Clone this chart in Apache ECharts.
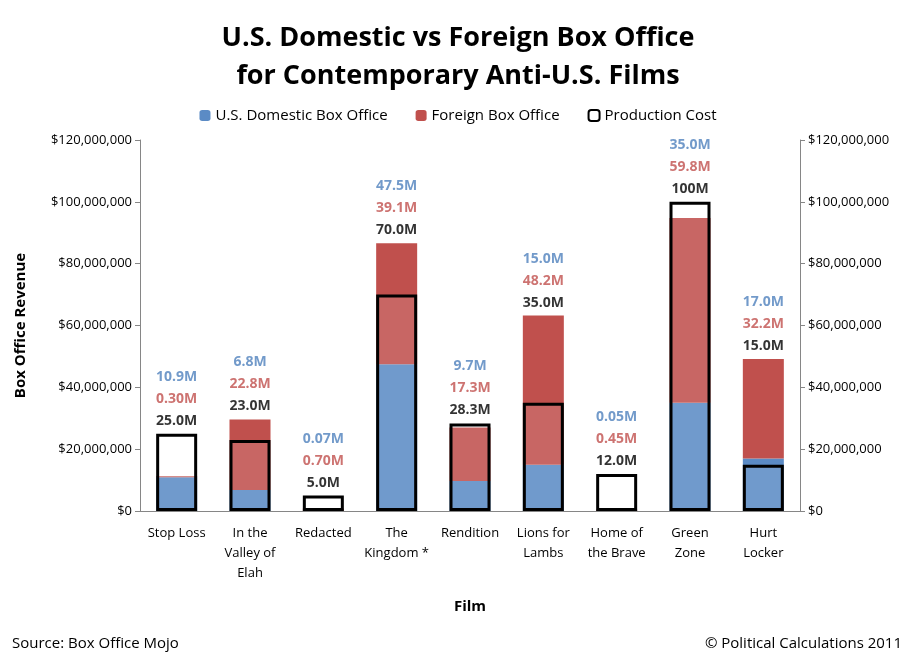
<!DOCTYPE html>
<html>
<head>
<meta charset="utf-8">
<script src="https://cdn.jsdelivr.net/npm/echarts@6/dist/echarts.min.js"></script>
<style>html,body{margin:0;padding:0;background:#fff}#c{width:916px;height:663px}</style>
</head>
<body>
<div id="c"></div>
<script>
var films = ['Stop Loss', 'In the\nValley of\nElah', 'Redacted', 'The\nKingdom *', 'Rendition', 'Lions for\nLambs', 'Home of\nthe Brave', 'Green\nZone', 'Hurt\nLocker'];
// values in millions of dollars
var domestic = [10.9, 6.8, 0.07, 47.5, 9.7, 15.0, 0.05, 35.0, 17.0];
var foreign = [0.3, 22.8, 0.70, 39.1, 17.3, 48.2, 0.45, 59.8, 32.2];
var cost = [25.0, 23.0, 5.0, 70.0, 28.3, 35.0, 12.0, 100, 15.0];

var M = 1e6;
function fmt(v) {
  if (v < 1) return v.toFixed(2) + 'M';
  if (v >= 100) return v.toFixed(0) + 'M';
  return v.toFixed(1) + 'M';
}
function money(v) {
  return '$' + v.toLocaleString('en-US');
}

var chart = echarts.init(document.getElementById('c'));
var font = 'Open Sans';
var yAxisBase = {
  type: 'value', min: 0, max: 120 * M, interval: 20 * M,
  axisLine: { show: true, lineStyle: { color: '#868686' } },
  axisTick: { show: true, length: 5, lineStyle: { color: '#868686' } },
  splitLine: { show: false },
  axisLabel: { color: '#000', fontFamily: font, fontSize: 13, formatter: money }
};

var option = {
  textStyle: { fontFamily: font },
  title: {
    text: 'U.S. Domestic vs Foreign Box Office\nfor Contemporary Anti-U.S. Films',
    left: 'center', top: 14,
    textStyle: { fontSize: 27, fontWeight: 'bold', lineHeight: 38, color: '#000', fontFamily: font }
  },
  legend: {
    top: 103, left: 'center', itemWidth: 11, itemHeight: 11, itemGap: 28,
    textStyle: { fontSize: 15, color: '#000', fontFamily: font },
    data: [
      { name: 'U.S. Domestic Box Office' },
      { name: 'Foreign Box Office' },
      { name: 'Production Cost', itemStyle: { color: '#fff', borderColor: '#000', borderWidth: 2 } }
    ]
  },
  grid: { left: 140, right: 116, top: 140, bottom: 152 },
  xAxis: {
    type: 'category', data: films,
    name: 'Film', nameLocation: 'middle', nameGap: 88,
    nameTextStyle: { fontSize: 15, fontWeight: 'bold', color: '#000' },
    axisLine: { lineStyle: { color: '#868686' } },
    axisTick: { show: false },
    axisLabel: { color: '#000', fontSize: 13, lineHeight: 20, interval: 0, margin: 12 }
  },
  yAxis: [
    Object.assign({}, yAxisBase, {
      name: 'Box Office Revenue', nameLocation: 'middle', nameGap: 112, nameRotate: 90,
      nameTextStyle: { fontSize: 15, fontWeight: 'bold', color: '#000' }
    }),
    Object.assign({}, yAxisBase, { position: 'right' })
  ],
  series: [
    {
      name: 'U.S. Domestic Box Office', type: 'bar', stack: 'bo', barWidth: 41,
      itemStyle: { color: '#5B8BC5' },
      data: domestic.map(function (v) { return v * M; })
    },
    {
      name: 'Foreign Box Office', type: 'bar', stack: 'bo',
      itemStyle: { color: '#C0504D' },
      data: foreign.map(function (v) { return v * M; })
    },
    {
      name: 'Production Cost', type: 'bar', barWidth: 41, barGap: '-100%', z: 3,
      itemStyle: { color: 'rgba(255,255,255,0.13)', borderColor: '#000', borderWidth: 3 },
      data: cost.map(function (v) { return v * M; })
    },
    {
      type: 'scatter', symbolSize: 0, silent: true, z: 5,
      data: cost.map(function (c, i) {
        return Math.max(c, domestic[i] + foreign[i]) * M;
      }),
      label: {
        show: true, position: 'top', distance: 2, lineHeight: 22,
        formatter: function (p) {
          var i = p.dataIndex;
          return '{b|' + fmt(domestic[i]) + '}\n{r|' + fmt(foreign[i]) + '}\n{k|' + fmt(cost[i]) + '}';
        },
        rich: {
          b: { color: '#4F81BD', fontSize: 14, fontWeight: 'bold', lineHeight: 22 },
          r: { color: '#C0504D', fontSize: 14, fontWeight: 'bold', lineHeight: 22 },
          k: { color: '#000', fontSize: 14, fontWeight: 'bold', lineHeight: 22 }
        }
      }
    }
  ],
  graphic: [
    { type: 'text', left: 12, top: 636, style: { text: 'Source: Box Office Mojo', font: '15px "Open Sans"', fill: '#000' } },
    { type: 'text', right: 14, top: 636, style: { text: '© Political Calculations 2011', font: '15px "Open Sans"', fill: '#000' } }
  ]
};
chart.setOption(option);
</script>
</body>
</html>
